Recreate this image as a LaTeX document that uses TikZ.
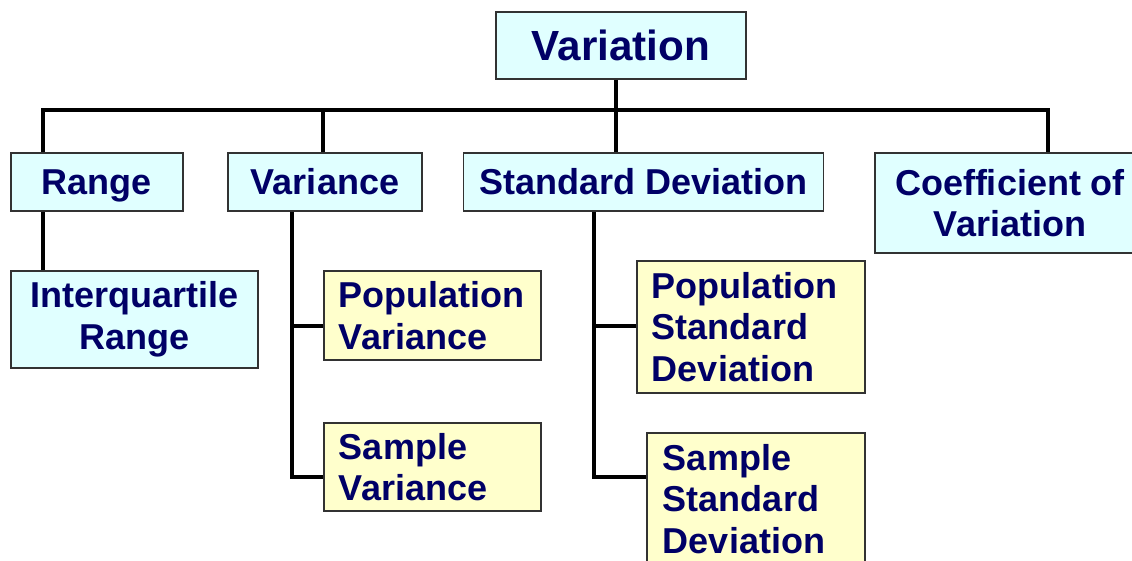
\documentclass[tikz,border=0pt]{standalone}
\usepackage{fontspec}
\setmainfont{Liberation Sans}
\usepackage{tikz}
\usepackage{xcolor}
\definecolor{boxcyan}{RGB}{224,255,255}
\definecolor{boxyellow}{RGB}{255,255,204}
\definecolor{boxgray}{RGB}{50,50,50}
\definecolor{labelnavy}{RGB}{0,0,102}

\begin{document}
\begin{tikzpicture}[
    x=0.025cm, y=-0.025cm,
    box/.style={draw=boxgray, line width=1.1pt, text=labelnavy, inner ysep=0pt, inner xsep=0.4cm,
        font=\bfseries\fontsize{25.6}{29.5}\selectfont},
    cbox/.style={box, fill=boxcyan, align=center},
    ybox/.style={box, fill=boxyellow, align=left},
    link/.style={line width=2.6pt, black}
]
\useasboundingbox (0,0) rectangle (1132,560);

% top
\node[cbox, minimum width=6.25cm, minimum height=1.675cm, font=\bfseries\fontsize{30}{34}\selectfont] (var) at (621,45.5) {Variation};

% second row
\node[cbox, minimum width=4.3cm, minimum height=1.45cm, text depth=0pt] (range) at (97,182) {Range};
\node[cbox, minimum width=4.85cm, minimum height=1.45cm] (vari) at (325,182) {Variance};
\node[cbox, minimum width=8.925cm, minimum height=1.45cm] (sd) at (643.5,182) {Standard Deviation};
\node[cbox, minimum width=6.75cm, minimum height=2.5cm] (cv) at (1010,203) {Coefficient of\\Variation};

% third row
\node[cbox, minimum width=6.175cm, minimum height=2.425cm] (iqr) at (134.5,319.5) {Interquartile\\Range};
\node[ybox, inner xsep=0.375cm, text width=4.675cm, minimum height=2.225cm] (popvar) at (432.5,315.5) {Population\\Variance};
\node[ybox, inner xsep=0.375cm, text width=4.675cm, minimum height=2.2cm] (sampvar) at (432.5,467) {Sample\\Variance};
\node[ybox, inner xsep=0.375cm, text width=4.95cm, minimum height=3.3cm] (popsd) at (751,327) {Population\\Standard\\Deviation};
\node[ybox, text width=4.65cm, minimum height=3.3cm] (sampsd) at (756,499) {Sample\\Standard\\Deviation};

% tree lines
\coordinate (hub) at (616,110);
\coordinate (b1) at (43,110);
\coordinate (b2) at (323,110);
\coordinate (b4) at (1048,110);
\coordinate (vs1) at (292,326);
\coordinate (vs2) at (292,477);
\coordinate (ss1) at (594,326);
\coordinate (ss2) at (594,477);

\draw[link] (var.south -| hub) -- (hub) -- (sd.north -| hub);
\draw[link, line cap=rect] (b1) -- (b4);
\draw[link] (b1) -- (range.north -| b1);
\draw[link] (b2) -- (vari.north -| b2);
\draw[link] (b4) -- (cv.north -| b4);
\draw[link] (range.south -| b1) -- (iqr.north -| b1);

\draw[link] (vari.south -| vs2) -- (vs2) -- (sampvar.west |- vs2);
\draw[link] (vs1) -- (popvar.west |- vs1);
\draw[link] (sd.south -| ss2) -- (ss2) -- (sampsd.west |- ss2);
\draw[link] (ss1) -- (popsd.west |- ss1);
\end{tikzpicture}
\end{document}
